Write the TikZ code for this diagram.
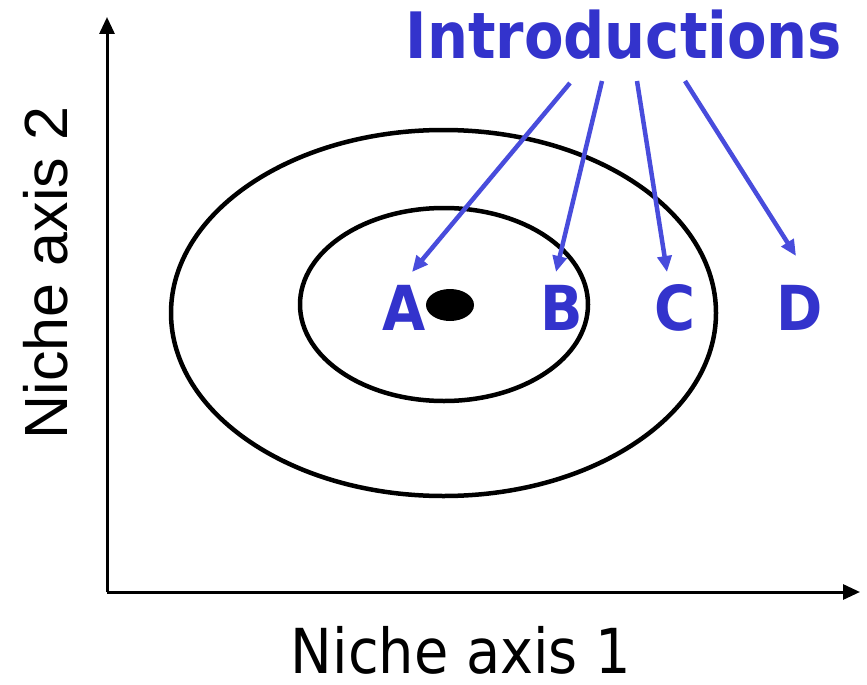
\documentclass[tikz,border=0pt]{standalone}
\usepackage{fontspec}
\setmainfont{DejaVu Sans Condensed}
\newfontfamily\arialfont{Liberation Sans}
\usetikzlibrary{arrows.meta}
\definecolor{letterblue}{RGB}{51,51,204}
\definecolor{arrowblue}{RGB}{72,76,220}
\tikzset{
  axis/.style={line width=3pt, -{Triangle[length=17pt,width=15pt]}},
  niche/.style={line width=4.5pt},
  intro/.style={arrowblue, line width=4.5pt, -{Triangle[length=16pt,width=14pt]}},
  letter/.style={letterblue, inner sep=0pt, font=\fontsize{62}{70}\selectfont\bfseries}
}
\begin{document}
\begin{tikzpicture}[x=1pt, y=-1pt]
  \useasboundingbox (0,0) rectangle (867,685);
  \coordinate (origin) at (107,592);
  \coordinate (ytip) at (107,17);
  \coordinate (xtip) at (860,592);
  \draw[axis] (origin) -- (ytip);
  \draw[axis] (origin) -- (xtip);
  \draw[niche] (443.5,313) ellipse (272.5 and 183);
  \draw[niche] (444,304.5) ellipse (144 and 96.5);
  \fill (450,305) ellipse (24 and 16);
  \node[inner sep=0pt, font=\fontsize{62}{70}\selectfont] (xlabel) at (461,650) {Niche axis 1};
  \node[inner sep=0pt, rotate=90, font=\arialfont\fontsize{61}{70}\selectfont] (ylabel) at (46,273) {Niche axis 2};
  \node[letter, font=\fontsize{64}{70}\selectfont\bfseries] (title) at (624,35) {Introductions};
  \node[letter] (A) at (404,308) {A};
  \node[letter] (B) at (562,308) {B};
  \node[letter] (C) at (675,308) {C};
  \node[letter] (D) at (800,308) {D};
  \coordinate (fromA) at (570,83);
  \coordinate (fromB) at (602,81);
  \coordinate (fromC) at (637,81);
  \coordinate (fromD) at (685,81);
  \coordinate (toA) at (412,272);
  \coordinate (toB) at (556,272);
  \coordinate (toC) at (667,272);
  \coordinate (toD) at (796,256);
  \draw[intro] (fromA) -- (toA);
  \draw[intro] (fromB) -- (toB);
  \draw[intro] (fromC) -- (toC);
  \draw[intro] (fromD) -- (toD);
\end{tikzpicture}
\end{document}
